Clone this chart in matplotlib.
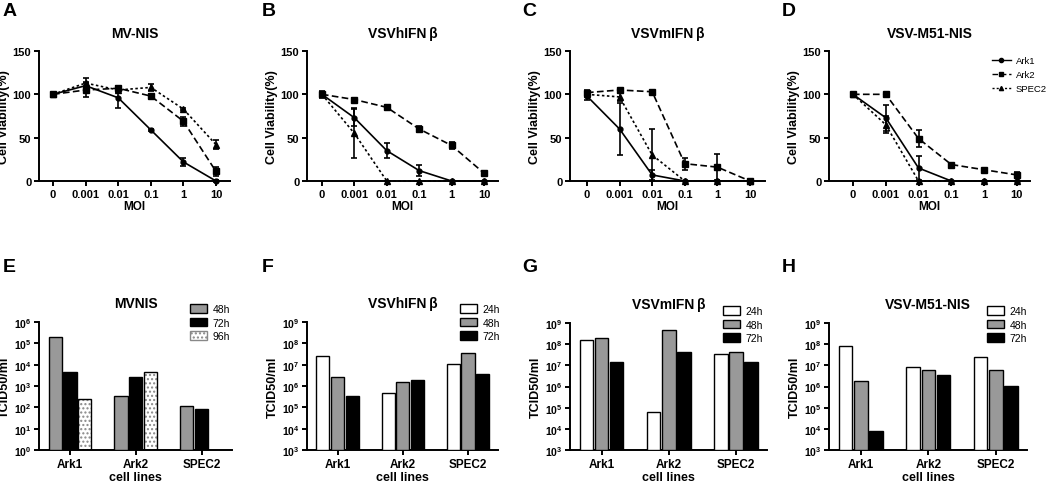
import numpy as np
import matplotlib
matplotlib.use("Agg")
import matplotlib.pyplot as plt
from matplotlib.ticker import FixedLocator, FuncFormatter
from matplotlib.lines import Line2D
from matplotlib.patches import Patch

plt.rcParams['font.family'] = ['Liberation Sans', 'DejaVu Sans']
plt.rcParams['mathtext.fontset'] = 'custom'
plt.rcParams['mathtext.rm'] = 'Liberation Sans:bold'
plt.rcParams['mathtext.bf'] = 'Liberation Sans:bold'

# ---------------- data ----------------
moi_labels = ['0', '0.001', '0.01', '0.1', '1', '10']
cell_lines = ['Ark1', 'Ark2', 'SPEC2']

titles_top = ['MV-NIS', 'VSVhIFN\u2009β', 'VSVmIFN\u2009β', 'VSV-M51-NIS']

# viability means (Ark1, Ark2, SPEC2) per panel
A_ark1 = [100, 110, 96, 59, 22, 0]
A_ark1_err = [0, 4, 12, 1, 5, 1]
A_ark2 = [100, 105, 107, 98, 69, 11]
A_ark2_err = [1, 8, 3, 2, 5, 5]
A_spec2 = [100, 113, 105, 108, 83, 42]
A_spec2_err = [1, 6, 2, 4, 1, 5]

B_ark1 = [100, 73, 35, 12, 0, 0]
B_ark1_err = [3, 10, 9, 6, 0, 0]
B_ark2 = [100, 94, 85, 60, 41, 9]
B_ark2_err = [4, 2, 3, 4, 4, 1]
B_spec2 = [100, 55, 0, 0, 0, 0]
B_spec2_err = [2, 29, 0, 0, 0, 0]

C_ark1 = [98, 60, 7, 0, 0, 0]
C_ark1_err = [4, 30, 6, 0, 0, 0]
C_ark2 = [102, 105, 103, 20, 16, 0]
C_ark2_err = [3, 1, 2, 7, 15, 0]
C_spec2 = [100, 97, 30, 0, 0, 0]
C_spec2_err = [2, 5, 30, 0, 0, 0]

D_ark1 = [100, 73, 15, 0, 0, 0]
D_ark1_err = [2, 15, 14, 0, 0, 0]
D_ark2 = [100, 100, 49, 19, 13, 7]
D_ark2_err = [2, 1, 10, 1, 1, 3]
D_spec2 = [100, 65, 0, 0, 0, 0]
D_spec2_err = [2, 10, 0, 0, 0, 0]

# titers (TCID50/ml)
titles_bot = ['MVNIS', 'VSVhIFN\u2009β', 'VSVmIFN\u2009β', 'VSV-M51-NIS']
E_times = ['48h', '72h', '96h']
E_t1 = [2e5, 3.5e2, 1.1e2]
E_t2 = [4.5e3, 2.7e3, 8.5e1]
E_t3 = [2.5e2, 4.5e3, np.nan]

FGH_times = ['24h', '48h', '72h']
F_t1 = [2.5e7, 4.7e5, 1.1e7]
F_t2 = [2.6e6, 1.5e6, 3.5e7]
F_t3 = [3.5e5, 2.0e6, 3.5e6]

G_t1 = [1.5e8, 6e4, 3.5e7]
G_t2 = [2.0e8, 4.5e8, 4.5e7]
G_t3 = [1.5e7, 4.5e7, 1.5e7]

H_t1 = [8e7, 8e6, 2.5e7]
H_t2 = [1.8e6, 6e6, 6e6]
H_t3 = [8e3, 3.5e6, 1.1e6]

# ---------------- figure ----------------
W, H = 1050, 485
fig = plt.figure(figsize=(W / 100, H / 100), dpi=100)

def px_axes(x0, x1, ytop, ybot):
    return fig.add_axes([x0 / W, 1 - ybot / H, (x1 - x0) / W, (ybot - ytop) / H])

def style_axes(ax, size=8):
    for s in ['top', 'right']:
        ax.spines[s].set_visible(False)
    for s in ['left', 'bottom']:
        ax.spines[s].set_linewidth(1.4)
    ax.tick_params(width=1.4, length=3.5, labelsize=size, pad=2)
    for lab in ax.get_xticklabels() + ax.get_yticklabels():
        lab.set_fontweight('bold')

top_specs = [
    (39, 230, -0.43, 5.43, (A_ark1, A_ark1_err), (A_ark2, A_ark2_err), (A_spec2, A_spec2_err)),
    (307, 498, -0.46, 5.43, (B_ark1, B_ark1_err), (B_ark2, B_ark2_err), (B_spec2, B_spec2_err)),
    (570, 765, -0.52, 5.46, (C_ark1, C_ark1_err), (C_ark2, C_ark2_err), (C_spec2, C_spec2_err)),
    (829, 1030, -0.73, 5.40, (D_ark1, D_ark1_err), (D_ark2, D_ark2_err), (D_spec2, D_spec2_err)),
]
series_style = [
    dict(marker='o', ls='-', ms=3.5),
    dict(marker='s', ls=(0, (4, 2)), ms=4),
    dict(marker='^', ls=(0, (1.5, 1.5)), ms=4),
]
letters_top = ['A', 'B', 'C', 'D']
letters_bot = ['E', 'F', 'G', 'H']
letter_x = [3, 262, 522, 782]

xpos = np.arange(len(moi_labels))
for i, (x0, x1, xl, xr, s1, s2, s3) in enumerate(top_specs):
    ax = px_axes(x0, x1, 52, 182)
    for (vals, err), st, name in zip([s1, s2, s3], series_style, cell_lines):
        ax.errorbar(xpos, vals, yerr=err, color='black', lw=1.2, ls=st['ls'],
                    marker=st['marker'], ms=st['ms'], capsize=2.5, elinewidth=1.2,
                    capthick=1.2, clip_on=False, zorder=3, label=name)
    ax.set_xlim(xl, xr)
    ax.set_ylim(0, 150)
    ax.set_yticks([0, 50, 100, 150])
    ax.set_xticks(xpos)
    ax.set_xticklabels(moi_labels)
    style_axes(ax, 8)
    ax.set_xlabel('MOI', fontsize=8.5, fontweight='bold', labelpad=1)
    ax.set_ylabel('Cell Viability(%)', fontsize=9, fontweight='bold', labelpad=2)
    ax.set_title(titles_top[i], fontsize=10, fontweight='bold', pad=10)
    fig.text(letter_x[i] / W, 1 - 12 / H, letters_top[i], fontsize=14, fontweight='bold',
             va='center', ha='left')
    if i == 3:
        handles = [Line2D([], [], color='black', lw=1.0, ls=st['ls'], marker=st['marker'],
                          ms=3) for st in series_style]
        fig.legend(handles, cell_lines, loc='upper left',
                   bbox_to_anchor=(992 / W, 1 - 57 / H), frameon=False, fontsize=6.8,
                   handlelength=2.0, handletextpad=0.5, labelspacing=0.55,
                   borderaxespad=0, borderpad=0)

def log_fmt(v, pos):
    e = int(round(np.log10(v)))
    return r'$\mathbf{10^{%d}}$' % e

bar_specs = [
    (39, 232, 323, 451, 1e0, 1e6, E_times, [E_t1, E_t2, E_t3], (190, 305)),
    (307, 498, 323, 451, 1e3, 1e9, FGH_times, [F_t1, F_t2, F_t3], (460, 305)),
    (570, 767, 324, 451, 1e3, 1e9, FGH_times, [G_t1, G_t2, G_t3], (723, 307)),
    (829, 1027, 324, 451, 1e3, 1e9, FGH_times, [H_t1, H_t2, H_t3], (987, 307)),
]
E_fill = [('#999999', None), ('black', None), ('white', '....')]
FGH_fill = [('white', None), ('#999999', None), ('black', None)]

cx = np.arange(len(cell_lines))
bw = 0.2
step = 0.225
for i, (x0, x1, yt, yb, lo, hi, times, series, legxy) in enumerate(bar_specs):
    ax = px_axes(x0, x1, yt, yb)
    ax.set_yscale('log')
    fills = E_fill if i == 0 else FGH_fill
    handles = []
    for j, (vals, (fc, hatch)) in enumerate(zip(series, fills)):
        v = np.array(vals, dtype=float)
        xs = cx + (j - 1) * step
        if hatch:
            ax.bar(xs, v - lo, bottom=lo, width=bw, color='white', edgecolor='#888888',
                   hatch=hatch, linewidth=0, zorder=2)
            ax.bar(xs, v - lo, bottom=lo, width=bw, fill=False, edgecolor='black',
                   linewidth=1.0, zorder=3)
            handles.append(Patch(facecolor='white', edgecolor='#888888', hatch=hatch))
        else:
            ax.bar(xs, v - lo, bottom=lo, width=bw, color=fc, edgecolor='black',
                   linewidth=1.0, zorder=3)
            handles.append(Patch(facecolor=fc, edgecolor='black', linewidth=1.0))
    ax.set_ylim(lo, hi)
    ax.set_xlim(-0.47, 2.46)
    ax.yaxis.set_major_locator(FixedLocator([10.0 ** k for k in range(int(np.log10(lo)), int(np.log10(hi)) + 1)]))
    ax.yaxis.set_minor_locator(FixedLocator([]))
    ax.yaxis.set_major_formatter(FuncFormatter(log_fmt))
    ax.set_xticks(cx)
    ax.set_xticklabels(cell_lines)
    style_axes(ax)
    ax.tick_params(axis='y', labelsize=7.5)
    ax.tick_params(axis='x', labelsize=8.5)
    ax.set_xlabel('cell lines', fontsize=9, fontweight='bold', labelpad=1)
    ax.set_ylabel('TCID50/ml', fontsize=9, fontweight='bold', labelpad=2)
    ax.set_title(titles_bot[i], fontsize=10, fontweight='bold', pad=11)
    fig.legend(handles, times, loc='upper left', bbox_to_anchor=(legxy[0] / W, 1 - legxy[1] / H),
               frameon=False, fontsize=7.5, handlelength=1.6, handleheight=0.9,
               handletextpad=0.6, labelspacing=0.35, borderaxespad=0, borderpad=0)
    fig.text(letter_x[i] / W, 1 - 268 / H, letters_bot[i], fontsize=14, fontweight='bold',
             va='center', ha='left')

fig.savefig('out.png', dpi=100)
